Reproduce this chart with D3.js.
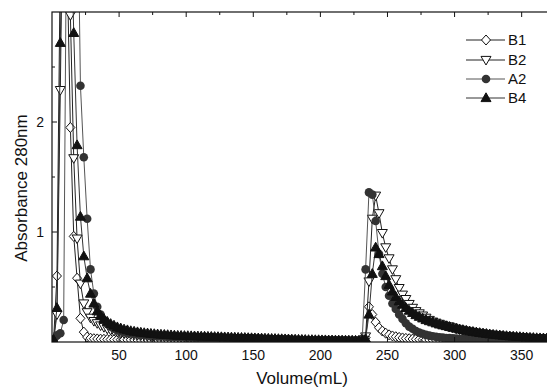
<!DOCTYPE html>
<html><head><meta charset="utf-8">
<script src="https://cdn.jsdelivr.net/npm/d3@7"></script>
<style>body{margin:0;background:#fff}svg{display:block}text{font-family:"Liberation Sans",Arial,sans-serif;fill:#111}</style>
</head><body><div id="chart"></div>
<script>
// Fraction volumes (mL)
const volumes = [
1.2,3.7,6.2,8.7,11.2,13.7,16.2,18.7,21.2,23.7,
26.2,28.7,31.2,33.7,36.2,38.7,41.2,43.7,46.2,48.7,
51.2,53.7,56.2,58.7,61.2,63.7,66.2,68.7,71.2,73.7,
76.2,78.7,81.2,83.7,86.2,88.7,91.2,93.7,96.2,98.7,
101.2,103.7,106.2,108.7,111.2,113.7,116.2,118.7,121.2,123.7,
126.2,128.7,131.2,133.7,136.2,138.7,141.2,143.7,146.2,148.7,
151.2,153.7,156.2,158.7,161.2,163.7,166.2,168.7,171.2,173.7,
176.2,178.7,181.2,183.7,186.2,188.7,191.2,193.7,196.2,198.7,
201.2,203.7,206.2,208.7,211.2,213.7,216.2,218.7,221.2,223.7,
226.2,228.7,231.2,233.7,236.2,238.7,241.2,243.7,246.2,248.7,
251.2,253.7,256.2,258.7,261.2,263.7,266.2,268.7,271.2,273.7,
276.2,278.7,281.2,283.7,286.2,288.7,291.2,293.7,296.2,298.7,
301.2,303.7,306.2,308.7,311.2,313.7,316.2,318.7,321.2,323.7,
326.2,328.7,331.2,333.7,336.2,338.7,341.2,343.7,346.2,348.7,
351.2,353.7,356.2,358.7,361.2,363.7,366.2,368.7];

const B1 = [
0.02,0.6,3.5,4.2,3.5,1.95,0.96,0.58,0.215,0.09,
0.045,0.035,0.03,0.028,0.026,0.025,0.024,0.023,0.022,0.022,
0.021,0.021,0.02,0.02,0.02,0.019,0.019,0.019,0.018,0.018,
0.018,0.018,0.017,0.017,0.017,0.016,0.016,0.016,0.016,0.015,
0.015,0.015,0.015,0.014,0.014,0.014,0.014,0.013,0.013,0.013,
0.013,0.012,0.012,0.012,0.012,0.011,0.011,0.011,0.011,0.01,
0.01,0.01,0.01,0.01,0.01,0.01,0.01,0.01,0.01,0.01,
0.01,0.009,0.009,0.009,0.009,0.009,0.009,0.009,0.009,0.009,
0.008,0.008,0.008,0.008,0.008,0.008,0.008,0.008,0.008,0.008,
0.008,0.008,0.01,0.04,0.32,0.25,0.18,0.13,0.1,0.08,
0.065,0.055,0.048,0.042,0.037,0.033,0.03,0.027,0.025,0.023,
0.021,0.02,0.019,0.018,0.017,0.016,0.015,0.015,0.014,0.014,
0.013,0.013,0.012,0.012,0.012,0.011,0.011,0.011,0.01,0.01,
0.01,0.01,0.01,0.01,0.01,0.01,0.01,0.01,0.01,0.01,
0.01,0.01,0.01,0.01,0.01,0.01,0.01,0.01];

const B2 = [
0.02,0.25,2.29,4.6,4.5,2.97,1.67,0.94,0.53,0.35,
0.27,0.22,0.19,0.17,0.15,0.135,0.12,0.11,0.1,0.092,
0.085,0.079,0.074,0.07,0.066,0.063,0.06,0.058,0.056,0.054,
0.052,0.051,0.05,0.049,0.048,0.047,0.046,0.045,0.045,0.044,
0.043,0.043,0.042,0.041,0.041,0.04,0.04,0.039,0.038,0.038,
0.037,0.037,0.036,0.035,0.035,0.034,0.033,0.033,0.032,0.031,
0.03,0.029,0.028,0.027,0.026,0.025,0.024,0.023,0.022,0.021,
0.02,0.019,0.018,0.018,0.017,0.016,0.016,0.015,0.015,0.014,
0.014,0.013,0.013,0.012,0.012,0.012,0.011,0.011,0.011,0.01,
0.01,0.01,0.015,0.05,0.55,1.12,1.33,1.17,0.99,0.86,
0.76,0.66,0.57,0.49,0.43,0.39,0.345,0.31,0.28,0.26,
0.24,0.22,0.2,0.185,0.175,0.165,0.155,0.145,0.14,0.13,
0.12,0.113,0.106,0.1,0.095,0.09,0.085,0.08,0.076,0.072,
0.068,0.064,0.061,0.058,0.055,0.052,0.049,0.047,0.045,0.043,
0.041,0.039,0.037,0.035,0.034,0.033,0.032,0.031];

const A2 = [
0.02,0.06,0.08,0.2,4.5,5.0,5.0,4.5,2.33,1.68,
1.12,0.66,0.44,0.32,0.25,0.2,0.165,0.14,0.12,0.105,
0.095,0.088,0.082,0.077,0.073,0.069,0.066,0.063,0.06,0.058,
0.056,0.054,0.052,0.05,0.049,0.048,0.046,0.045,0.044,0.043,
0.042,0.041,0.04,0.039,0.038,0.037,0.036,0.036,0.035,0.034,
0.033,0.033,0.032,0.031,0.03,0.03,0.029,0.028,0.027,0.027,
0.026,0.025,0.024,0.024,0.023,0.022,0.022,0.021,0.02,0.02,
0.019,0.019,0.018,0.018,0.017,0.017,0.016,0.016,0.015,0.015,
0.015,0.014,0.014,0.014,0.013,0.013,0.013,0.012,0.012,0.012,
0.012,0.012,0.03,0.66,1.36,1.34,1.1,0.8,0.62,0.5,
0.42,0.35,0.3,0.25,0.21,0.17,0.14,0.12,0.1,0.085,
0.075,0.065,0.058,0.052,0.047,0.043,0.04,0.037,0.035,0.033,
0.031,0.029,0.028,0.027,0.026,0.025,0.024,0.023,0.022,0.021,
0.02,0.02,0.019,0.019,0.018,0.018,0.017,0.017,0.016,0.016,
0.015,0.015,0.015,0.014,0.014,0.014,0.013,0.013];

const B4 = [
0.02,0.31,2.72,4.5,4.8,4.0,2.81,1.79,1.14,0.78,
0.58,0.44,0.35,0.28,0.24,0.21,0.185,0.165,0.15,0.135,
0.125,0.115,0.108,0.1,0.095,0.09,0.086,0.082,0.079,0.076,
0.073,0.07,0.068,0.066,0.064,0.062,0.06,0.058,0.057,0.056,
0.055,0.054,0.053,0.052,0.051,0.05,0.049,0.048,0.047,0.046,
0.045,0.044,0.043,0.042,0.041,0.04,0.039,0.038,0.037,0.036,
0.035,0.034,0.033,0.032,0.031,0.03,0.029,0.028,0.027,0.026,
0.025,0.024,0.023,0.022,0.021,0.02,0.019,0.019,0.018,0.018,
0.017,0.017,0.016,0.016,0.015,0.015,0.015,0.014,0.014,0.014,
0.013,0.013,0.015,0.03,0.25,0.62,0.86,0.8,0.69,0.6,
0.52,0.46,0.41,0.37,0.34,0.31,0.285,0.265,0.245,0.23,
0.215,0.2,0.19,0.18,0.17,0.16,0.152,0.145,0.138,0.13,
0.123,0.116,0.11,0.104,0.098,0.093,0.088,0.083,0.079,0.075,
0.071,0.067,0.064,0.061,0.058,0.055,0.052,0.05,0.048,0.046,
0.044,0.042,0.04,0.038,0.036,0.035,0.034,0.033];

const seriesNames = ["B1","B2","A2","B4"];
const xTickValues = [50,100,150,200,250,300,350];
const yTickValues = [1,2];

const W = 547, H = 388;
const margin = {left:52, top:12, right:-1.5, bottom:46};
const x = d3.scaleLinear().domain([0,370]).range([margin.left, W - margin.right]);
const y = d3.scaleLinear().domain([0,3]).range([H - margin.bottom, margin.top]);

const svg = d3.select("#chart").append("svg").attr("width",W).attr("height",H);

svg.append("defs").append("clipPath").attr("id","plotclip")
  .append("rect").attr("x",x(0)).attr("y",y(3)).attr("width",x(370)-x(0)).attr("height",y(0)-y(3));

const shapes = {
  diamond: "M0,-5L4.5,0L0,5L-4.5,0Z",
  tdown: "M-5,-3.6L5,-3.6L0,5Z",
  tup: "M0,-5.2L5,3.6L-5,3.6Z"
};
const styles = {
  B1:{data:B1, shape:"diamond", fill:"#fff", stroke:"#111", line:"#222"},
  B2:{data:B2, shape:"tdown", fill:"#fff", stroke:"#111", line:"#222"},
  A2:{data:A2, shape:"circle", fill:"#333", stroke:"#333", line:"#555"},
  B4:{data:B4, shape:"tup", fill:"#111", stroke:"#111", line:"#333"}
};

function marker(g, st){
  if (st.shape === "circle") {
    return g.append("circle").attr("r",4.3).attr("fill",st.fill).attr("stroke","none");
  }
  return g.append("path").attr("d",shapes[st.shape]).attr("fill",st.fill)
    .attr("stroke",st.stroke).attr("stroke-width",1).attr("stroke-linejoin","miter");
}

const plot = svg.append("g").attr("clip-path","url(#plotclip)");
const line = d3.line().x(d=>x(d[0])).y(d=>y(d[1]));

seriesNames.forEach(name=>{
  const st = styles[name];
  const pts = volumes.map((v,i)=>[v, st.data[i]]);
  const g = plot.append("g");
  g.append("path").datum(pts).attr("d",line).attr("fill","none")
    .attr("stroke",st.line).attr("stroke-width",1);
  pts.forEach(p=>{
    const m = marker(g, st);
    m.attr("transform",`translate(${x(p[0])},${y(p[1])})`);
  });
});

// Frame
svg.append("rect").attr("x",x(0)).attr("y",y(3)).attr("width",x(370)-x(0)).attr("height",y(0)-y(3))
  .attr("fill","none").attr("stroke","#111").attr("stroke-width",1.2);

// Axes ticks (inward)
const minorX = [25,75,125,175,225,275,325];
const gTop = svg.append("g");
xTickValues.forEach(v=>{
  gTop.append("line").attr("x1",x(v)).attr("x2",x(v)).attr("y1",y(3)).attr("y2",y(3)+5).attr("stroke","#111");
  gTop.append("line").attr("x1",x(v)).attr("x2",x(v)).attr("y1",y(0)).attr("y2",y(0)-5).attr("stroke","#111");
});
minorX.forEach(v=>{
  gTop.append("line").attr("x1",x(v)).attr("x2",x(v)).attr("y1",y(3)).attr("y2",y(3)+3).attr("stroke","#111");
  gTop.append("line").attr("x1",x(v)).attr("x2",x(v)).attr("y1",y(0)).attr("y2",y(0)-3).attr("stroke","#111");
});
yTickValues.forEach(v=>{
  gTop.append("line").attr("x1",x(0)).attr("x2",x(0)+5).attr("y1",y(v)).attr("y2",y(v)).attr("stroke","#111");
});
[0.5,1.5,2.5].forEach(v=>{
  gTop.append("line").attr("x1",x(0)).attr("x2",x(0)+3).attr("y1",y(v)).attr("y2",y(v)).attr("stroke","#111");
});

// Tick labels
xTickValues.forEach(v=>{
  svg.append("text").attr("x",x(v)).attr("y",y(0)+18).attr("text-anchor","middle")
    .attr("font-size",14).text(v);
});
yTickValues.forEach(v=>{
  svg.append("text").attr("x",x(0)-8).attr("y",y(v)+5).attr("text-anchor","end")
    .attr("font-size",14).text(v);
});

// Axis titles
svg.append("text").attr("x",302).attr("y",384).attr("text-anchor","middle")
  .attr("font-size",17).text("Volume(mL)");
svg.append("text").attr("transform","translate(27,188) rotate(-90)").attr("text-anchor","middle")
  .attr("font-size",17).text("Absorbance 280nm");

// Legend
const legendY = [40,60,79,98];
seriesNames.forEach((name,i)=>{
  const st = styles[name];
  const g = svg.append("g").attr("transform",`translate(0,${legendY[i]})`);
  g.append("line").attr("x1",466).attr("x2",505).attr("y1",0).attr("y2",0).attr("stroke",st.line).attr("stroke-width",1);
  marker(g, st).attr("transform","translate(486,0)");
  g.append("text").attr("x",508).attr("y",5).attr("font-size",15).text(name);
});
</script>
</body></html>
